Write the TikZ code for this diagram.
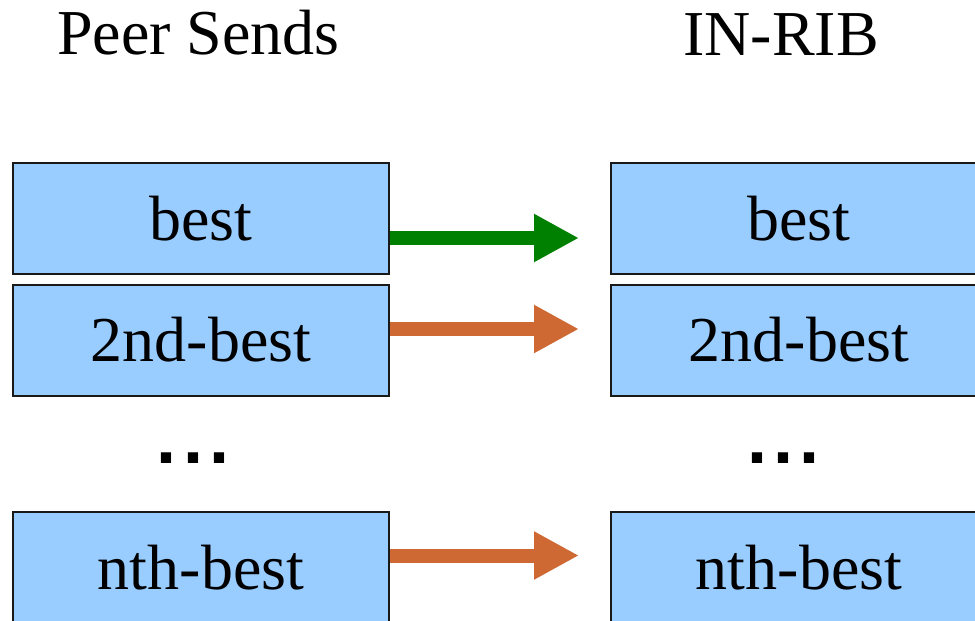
\documentclass[tikz,border=0pt]{standalone}
\usepackage{fontspec}
\setmainfont{Liberation Serif}
\newfontfamily\dotfont{Liberation Sans Bold}
\usetikzlibrary{arrows.meta}
\definecolor{boxblue}{RGB}{153,204,255}
\definecolor{bestgreen}{RGB}{0,128,0}
\definecolor{restorange}{RGB}{207,105,52}
\tikzset{
  rib/.style={draw=black!90, line width=2pt, fill=boxblue, rectangle,
    minimum width=376pt, minimum height=111pt, inner sep=0pt,
    font=\fontsize{64}{64}\selectfont},
  heading/.style={anchor=base, inner sep=0pt, font=\fontsize{64}{64}\selectfont},
  dots/.style={anchor=base, inner sep=0pt, font=\dotfont\fontsize{72}{72}\selectfont},
  fat/.style={line width=14pt, -{Triangle[length=45pt,width=45pt]}, shorten >=31pt},
}
\begin{document}
\begin{tikzpicture}[x=1pt,y=-1pt]
  \useasboundingbox (0,0) rectangle (975,621);
  \begin{scope}
    \clip (0,0) rectangle (975,621);
    % headings
    \node[heading] (hl) at (198.5,54) {Peer Sends};
    \node[heading] (hr) at (781,55) {IN-RIB};
    % routes sent by the peer
    \node[rib] (l1) at (201,218.5) {best};
    \node[rib] (l2) at (201,340) {2nd-best};
    \node[rib] (l3) at (201,567.5) {nth-best};
    % routes stored in the Adj-RIB-In
    \node[rib] (r1) at (799,218.5) {best};
    \node[rib] (r2) at (799,340) {2nd-best};
    \node[rib] (r3) at (799,567.5) {nth-best};
    % ellipses between the 2nd and nth route
    \node[dots] (dl) at (193.5,463) {.\kern6.5pt.\kern6.5pt.};
    \node[dots] (dr) at (783.5,463) {.\kern6.5pt.\kern6.5pt.};
    % transfers
    \draw[fat, bestgreen] ([yshift=-19.5pt]l1.east) -- ([yshift=-19.5pt]r1.west);
    \draw[fat, restorange] ([yshift=11pt]l2.east) -- ([yshift=11pt]r2.west);
    \draw[fat, restorange] ([yshift=12pt]l3.east) -- ([yshift=12pt]r3.west);
  \end{scope}
\end{tikzpicture}
\end{document}
